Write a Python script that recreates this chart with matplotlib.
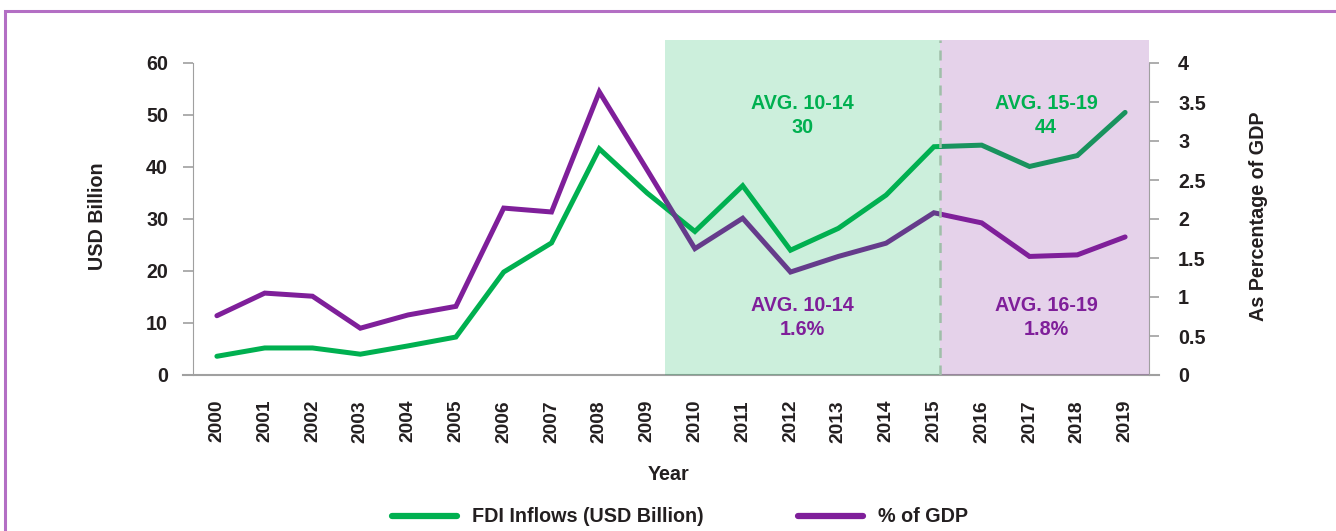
import matplotlib
matplotlib.use('Agg')
import matplotlib.pyplot as plt
from matplotlib.patches import Rectangle
import numpy as np

plt.rcParams['font.family'] = ['Liberation Sans', 'DejaVu Sans']
plt.rcParams['font.weight'] = 'bold'

years = [str(y) for y in range(2000, 2020)]
fdi_usd = [3.6, 5.2, 5.2, 4.0, 5.6, 7.3, 19.8, 25.4, 43.5, 35.0,
           27.6, 36.4, 24.0, 28.2, 34.6, 43.9, 44.2, 40.1, 42.2, 50.5]
fdi_gdp = [0.76, 1.05, 1.01, 0.60, 0.77, 0.88, 2.14, 2.09, 3.63, 2.63,
           1.62, 2.01, 1.32, 1.52, 1.69, 2.08, 1.95, 1.52, 1.54, 1.77]

GREEN = '#00b050'
PURPLE = '#7f1f9a'
GREY = '#a0a0a0'
TXT = '#231f20'
FS = 14.2

fig = plt.figure(figsize=(13.36, 5.31), dpi=100)
ax = fig.add_axes([193/1336, 1-375/531, (1149-193)/1336, (375-40)/531])
ax2 = ax.twinx()

x = np.arange(len(years))
ax.plot(x, fdi_usd, color=GREEN, lw=3.6, solid_capstyle='round', solid_joinstyle='miter', zorder=2)
ax2.plot(x, fdi_gdp, color=PURPLE, lw=3.6, solid_capstyle='round', solid_joinstyle='miter', zorder=2)

# shaded periods sit above the lines, so the lines pick up the tint
ax2.axvspan(9.37, 15.12, color=GREEN, alpha=0.2, lw=0, zorder=3)
ax2.axvspan(15.12, 19.5, color=PURPLE, alpha=0.2, lw=0, zorder=3)
ax2.axvline(15.12, color='#9fbfa9', lw=1.8, ls=(0, (4, 3)), zorder=4)

ax.set_xlim(-0.5, 19.5)
ax.set_ylim(0, 60 + 23/5.2)
ax2.set_ylim(0, 4 + 23/78)
ax.set_yticks(range(0, 61, 10))
ax2.set_yticks([0, 0.5, 1, 1.5, 2, 2.5, 3, 3.5, 4])
ax2.set_yticklabels(['0', '0.5', '1', '1.5', '2', '2.5', '3', '3.5', '4'])
ax.set_xticks(x)
ax.set_xticklabels(years, rotation=90)

for a in (ax, ax2):
    for s in a.spines.values():
        s.set_visible(False)
ax.spines['left'].set_visible(True)
ax.spines['left'].set_bounds(0, 60)
ax.spines['left'].set_color(GREY)
ax2.spines['right'].set_visible(True)
ax2.spines['right'].set_bounds(0, 4)
ax2.spines['right'].set_color(GREY)
ax.plot([-10/956, 1 + 10/956], [0, 0], transform=ax.transAxes, color=GREY, lw=1.5, clip_on=False, zorder=5)

ax.tick_params(axis='y', length=7, width=1.2, color=GREY, labelsize=FS, labelcolor=TXT, pad=11)
ax2.tick_params(axis='y', length=7, width=1.2, color=GREY, labelsize=FS, labelcolor=TXT, pad=14)
ax.tick_params(axis='x', length=0, labelsize=13.8, labelcolor=TXT, pad=18)
for lab in ax.get_yticklabels() + ax2.get_yticklabels() + ax.get_xticklabels():
    lab.set_fontweight('bold')

ax.set_ylabel('USD Billion', fontsize=FS, fontweight='bold', color=TXT)
ax.yaxis.set_label_coords(-86/956, 0.5 - 9/335)
ax2.set_ylabel('As Percentage of GDP', fontsize=FS, fontweight='bold', color=TXT)
ax2.yaxis.set_label_coords(1 + 100/956, 0.5 - 9/335)
ax.set_xlabel('Year', fontsize=FS, fontweight='bold', color=TXT)
ax.xaxis.set_label_coords(0.5 - 2/956, -90/335)

avg_labels = [(12.25, 3.33, 'AVG. 10-14\n30', GREEN),
              (17.35, 3.33, 'AVG. 15-19\n44', GREEN),
              (12.25, 0.74, 'AVG. 10-14\n1.6%', PURPLE),
              (17.35, 0.74, 'AVG. 16-19\n1.8%', PURPLE)]
for xt, yt, s, c in avg_labels:
    ax2.text(xt, yt, s, color=c, fontsize=FS, fontweight='bold',
             ha='center', va='center', linespacing=1.35, zorder=6)

h1, = ax.plot([], [], color=GREEN, lw=4.5, solid_capstyle='round')
h2, = ax.plot([], [], color=PURPLE, lw=4.5, solid_capstyle='round')
leg = fig.legend([h1, h2], ['FDI Inflows (USD Billion)', '% of GDP'], loc='center',
                 bbox_to_anchor=(680/1336, 1 - 517/531), ncol=2, frameon=False,
                 handlelength=3.3, handletextpad=0.75, columnspacing=4.8,
                 prop={'size': FS, 'weight': 'bold'})
for t in leg.get_texts():
    t.set_color(TXT)

# purple frame around the figure
fig.patches.append(Rectangle((5/1336, -0.1), 1.1, 1 - 11/531 + 0.1, transform=fig.transFigure,
                             fill=False, edgecolor='#b36fc4', lw=2.2))

fig.savefig('out.png', dpi=100)
